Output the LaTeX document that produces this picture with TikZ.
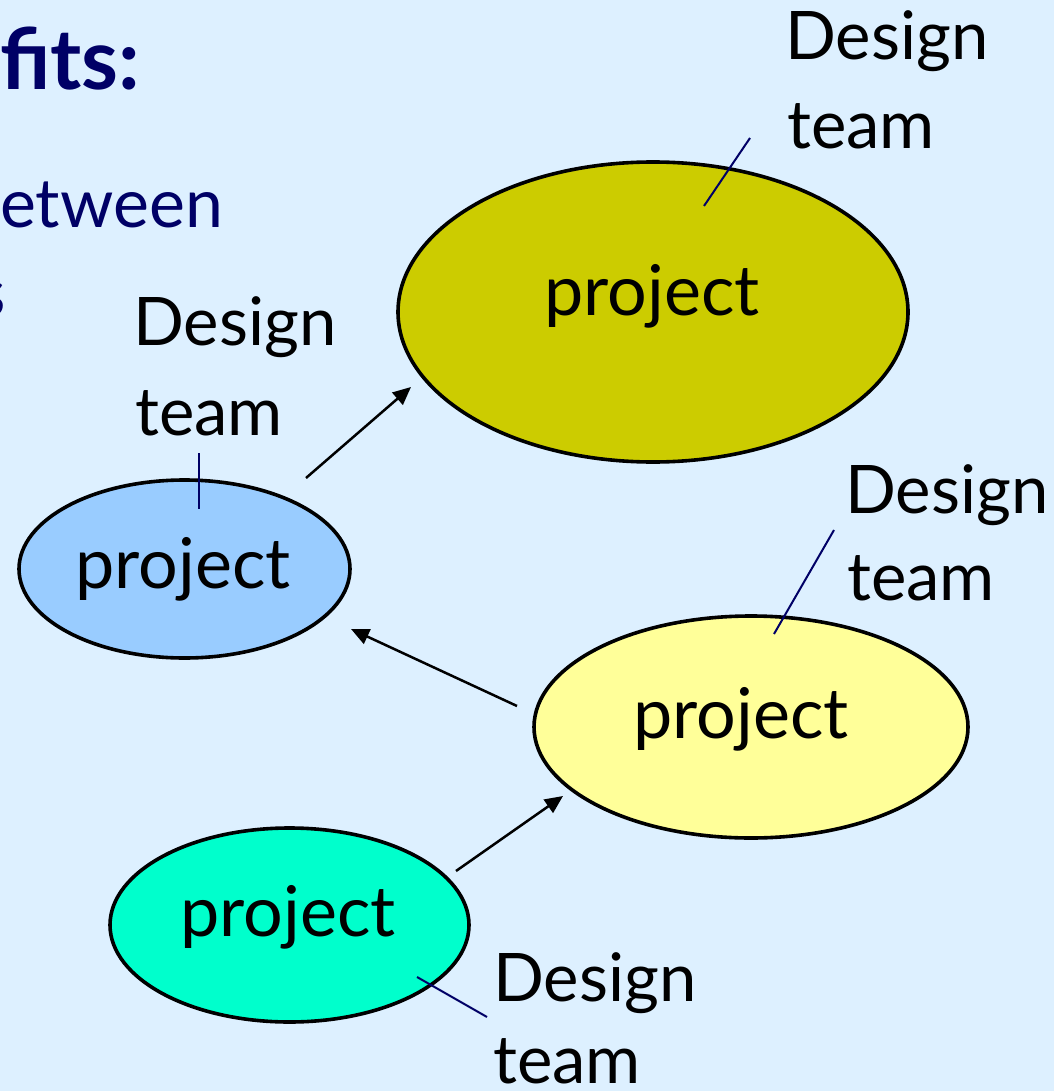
\documentclass[tikz,border=0pt]{standalone}
\usepackage{fontspec}
\setmainfont{Lato}
\usetikzlibrary{shapes.geometric,arrows.meta}
\definecolor{bg}{RGB}{221,240,255}
\definecolor{olive}{RGB}{204,204,0}
\definecolor{skyb}{RGB}{153,204,255}
\definecolor{paley}{RGB}{255,255,153}
\definecolor{aqua}{RGB}{0,255,204}
\definecolor{navy}{RGB}{0,0,102}
\tikzset{
  proj/.style={ellipse, draw=black, line width=3.6pt, inner sep=0pt},
  lbl/.style={anchor=base west, inner sep=0pt, font=\fontsize{67}{67}\selectfont},
  ptext/.style={anchor=base, inner sep=0pt, font=\fontsize{70}{70}\selectfont},
  head/.style={anchor=base west, inner sep=0pt, text=navy, font=\fontsize{68}{68}\selectfont},
  link/.style={line width=2.5pt, -{Triangle[length=18pt,width=16pt]}},
  tick/.style={navy, line width=2pt}
}
\begin{document}
\begin{tikzpicture}[x=1pt,y=-1pt]
\useasboundingbox (0,0) rectangle (1054,1091);
\clip (0,0) rectangle (1054,1091);
\fill[bg] (0,0) rectangle (1054,1091);
% cropped heading text
\node[head, font=\bfseries\fontsize{84}{84}\selectfont] (h1) at (0,90) {fits:};
\node[head] (h2) at (0,228) {etween};
\node[head, anchor=base east] (h3) at (6,316) {s};
% ellipses
\node[proj, fill=olive, minimum width=510pt, minimum height=300pt] (pA) at (653,312) {};
\node[proj, fill=skyb, minimum width=331pt, minimum height=178pt] (pB) at (184.5,569) {};
\node[proj, fill=paley, minimum width=434pt, minimum height=222pt] (pC) at (751,727) {};
\node[proj, fill=aqua, minimum width=359pt, minimum height=194pt] (pD) at (289.5,925) {};
\node[ptext] (tA) at (652,315) {project};
\node[ptext] (tB) at (183,588) {project};
\node[ptext] (tC) at (741,738) {project};
\node[ptext] (tD) at (288,936) {project};
% labels
\node[lbl] (dA1) at (785,60) {Design};
\node[lbl] (dA2) at (787,149) {team};
\node[lbl] (dB1) at (133,345) {Design};
\node[lbl] (dB2) at (135,435) {team};
\node[lbl] (dC1) at (845,513) {Design};
\node[lbl] (dC2) at (847,600) {team};
\node[lbl] (dD1) at (493,1001) {Design};
\node[lbl] (dD2) at (493,1083) {team};
% arrows
\coordinate (a1s) at (306,478); \coordinate (a1e) at (411,387);
\coordinate (a2s) at (517,706); \coordinate (a2e) at (351,629);
\coordinate (a3s) at (456,871); \coordinate (a3e) at (563,796);
\draw[link] (a1s) -- (a1e);
\draw[link] (a2s) -- (a2e);
\draw[link] (a3s) -- (a3e);
% ticks
\coordinate (kA1) at (750,138); \coordinate (kA2) at (704,206);
\coordinate (kB1) at (199,453); \coordinate (kB2) at (199,509);
\coordinate (kC1) at (834,530); \coordinate (kC2) at (774,634);
\coordinate (kD1) at (417,977); \coordinate (kD2) at (487,1017);
\draw[tick] (kA1) -- (kA2);
\draw[tick] (kB1) -- (kB2);
\draw[tick] (kC1) -- (kC2);
\draw[tick] (kD1) -- (kD2);
\end{tikzpicture}
\end{document}
